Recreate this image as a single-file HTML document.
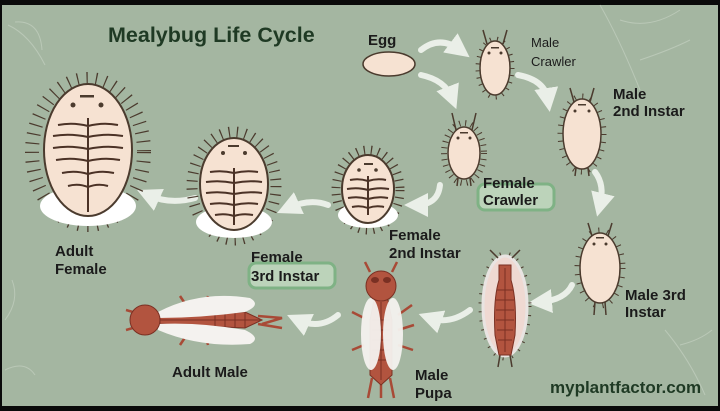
<!DOCTYPE html>
<html><head><style>
html,body{margin:0;padding:0;background:#000;}
svg{display:block;}
text{font-family:"Liberation Sans",sans-serif;}
</style></head><body>
<svg width="720" height="411" viewBox="0 0 720 411" xmlns="http://www.w3.org/2000/svg">
<rect x="0" y="0" width="720" height="411" fill="#0a0a0a"/>
<rect x="2" y="5" width="716" height="401" fill="#a4b6a1"/>
<g fill="none" stroke="#c3d0c0" stroke-width="1" opacity="0.7">
<path d="M8 25 Q30 35 45 65 M15 22 Q40 20 42 50"/>
<path d="M600 5 Q620 40 640 90 M620 20 Q650 30 680 10 M640 60 Q670 50 690 40"/>
<path d="M665 330 Q690 360 705 395 M680 345 Q700 340 712 330"/>
<path d="M5 320 Q20 300 12 280 M5 370 Q25 360 35 375"/>
</g>
<text x="108" y="42" font-size="21.5" font-weight="bold" fill="#1f3a24">Mealybug Life Cycle</text>

<defs>
<marker id="ah" viewBox="0 0 10 10" refX="5" refY="5" markerWidth="4" markerHeight="4" orient="auto"><path d="M0 0L10 5L0 10z" fill="#eef3ec"/></marker>
</defs>
<g fill="none" stroke="#eef3ec" stroke-width="6" stroke-linecap="round" marker-end="url(#ah)" opacity="0.95">
<path d="M421 50 Q440 35 460 50"/>
<path d="M421 75 Q445 80 452 98"/>
<path d="M518 75 Q545 80 548 100"/>
<path d="M595 172 Q605 185 600 205"/>
<path d="M572 285 Q565 300 540 302"/>
<path d="M470 310 Q450 325 430 318"/>
<path d="M338 315 Q320 330 298 320"/>
<path d="M440 185 Q438 205 416 205"/>
<path d="M328 205 Q310 198 288 208"/>
<path d="M195 198 Q170 205 148 195"/>
</g>

<g stroke="#4b3b2e">
<ellipse cx="88" cy="152" rx="56" ry="73" fill="none" stroke-width="14" stroke-dasharray="1.2 8"/>
<ellipse cx="88" cy="206" rx="48" ry="20" fill="#fff" stroke="none"/>
<ellipse cx="88" cy="150" rx="44" ry="66" fill="#f6e2d2" stroke-width="2"/>
<ellipse cx="234" cy="186" rx="42" ry="54" fill="none" stroke-width="11" stroke-dasharray="1.2 7"/>
<ellipse cx="234" cy="222" rx="38" ry="16" fill="#fff" stroke="none"/>
<ellipse cx="234" cy="184" rx="34" ry="46" fill="#f6e2d2" stroke-width="2"/>
<ellipse cx="368" cy="190" rx="32" ry="40" fill="none" stroke-width="9" stroke-dasharray="1.2 6"/>
<ellipse cx="368" cy="215" rx="30" ry="13" fill="#fff" stroke="none"/>
<ellipse cx="368" cy="189" rx="26" ry="34" fill="#f6e2d2" stroke-width="2"/>
<ellipse cx="464" cy="153" rx="20" ry="30" fill="none" stroke-width="6" stroke-dasharray="1 5"/>
<ellipse cx="464" cy="153" rx="16" ry="26" fill="#f6e2d2" stroke-width="1.5"/>
<ellipse cx="389" cy="64" rx="26" ry="12" fill="#f6e2d2" stroke-width="1.5"/>
<ellipse cx="495" cy="68" rx="17" ry="29" fill="none" stroke-width="5" stroke-dasharray="1 6"/>
<ellipse cx="495" cy="68" rx="15" ry="27" fill="#f6e2d2" stroke-width="1.5"/>
<ellipse cx="582" cy="134" rx="22" ry="38" fill="none" stroke-width="5" stroke-dasharray="1 7"/>
<ellipse cx="582" cy="134" rx="19" ry="35" fill="#f6e2d2" stroke-width="1.5"/>
<ellipse cx="600" cy="268" rx="23" ry="38" fill="none" stroke-width="5" stroke-dasharray="1 8"/>
<ellipse cx="600" cy="268" rx="20" ry="35" fill="#f6e2d2" stroke-width="1.5"/>
<ellipse cx="505" cy="306" rx="24" ry="52" fill="none" stroke-width="5" stroke-dasharray="1 8"/>
<ellipse cx="505" cy="306" rx="22" ry="50" fill="#efd9d2" stroke="#e9e4e2" stroke-width="3"/>
</g>
<g stroke="#4b3b2e" stroke-width="1.5" fill="none">
<path d="M487 44 L483 30 M503 44 L507 30"/>
<path d="M456 130 L452 113 M472 130 L476 113 M458 178 L457 186 M470 178 L471 186"/>
<path d="M574 102 L570 88 M590 102 L594 88 M576 168 L575 176 M588 168 L589 176"/>
<path d="M592 236 L588 223 M608 236 L612 223 M595 302 L594 315 M605 302 L606 315"/>
<path d="M498 258 L490 250 M512 258 L520 250 M500 355 L498 367 M510 355 L512 367"/>
</g>
<g fill="#4b3b2e">
<rect x="80" y="95" width="14" height="2.5"/><circle cx="73" cy="105" r="2.5"/><circle cx="101" cy="105" r="2.5"/>
<rect x="228" y="145" width="11" height="2"/><circle cx="223" cy="153" r="2"/><circle cx="245" cy="153" r="2"/>
<rect x="364" y="163" width="9" height="2"/><circle cx="359" cy="170" r="1.8"/><circle cx="376" cy="170" r="1.8"/>
<rect x="460" y="132" width="8" height="1.5"/><circle cx="458" cy="138" r="1.5"/><circle cx="470" cy="138" r="1.5"/>
<rect x="491" y="47" width="8" height="1.5"/><circle cx="489" cy="53" r="1.5"/><circle cx="501" cy="53" r="1.5"/>
<rect x="578" y="104" width="8" height="1.5"/><circle cx="575" cy="111" r="1.5"/><circle cx="589" cy="111" r="1.5"/>
<rect x="596" y="237" width="8" height="1.5"/><circle cx="594" cy="244" r="1.5"/><circle cx="606" cy="244" r="1.5"/>
</g>
<g stroke="#4b3226" stroke-width="2" fill="none">
<path d="M88 118 V212 M58 125 Q73 122 88 126 Q103 122 118 125 M53 136 Q70 133 88 137 Q106 133 123 136 M53 148 Q70 145 88 149 Q106 145 123 148 M56 160 Q72 157 88 161 Q104 157 120 160 M62 173 Q75 170 88 174 Q101 170 114 173 M68 186 Q78 183 88 187 Q98 183 108 186"/>
<path d="M234 168 V225 M210 172 Q222 170 234 173 Q246 170 258 172 M206 182 Q220 180 234 183 Q248 180 262 182 M206 193 Q220 191 234 194 Q248 191 262 193 M210 204 Q222 202 234 205 Q246 202 258 204 M215 215 Q225 213 234 216 Q243 213 253 215"/>
<path d="M368 176 V215 M350 180 Q359 178 368 181 Q377 178 386 180 M347 189 Q358 187 368 190 Q378 187 389 189 M348 198 Q358 196 368 199 Q378 196 388 198 M352 207 Q360 205 368 208 Q376 205 384 207"/>
</g>
<path d="M499 265 h12 v15 q6 20 4 55 l-4 20 h-12 l-4 -20 q-2 -35 4 -55z" fill="#b2543f" stroke="#7a3023" stroke-width="1"/>
<g stroke="#7a3023" stroke-width="1"><path d="M505 268 V352 M497 290 h16 M496 300 h18 M496 310 h18 M496 320 h18 M497 330 h16 M498 340 h14"/></g>

<g>
<path d="M370 272 L365 262 M392 272 L397 262" stroke="#a84a36" stroke-width="2.5"/>
<path d="M372 378 L368 398 M390 378 L394 398 M381 380 L381 398" stroke="#a84a36" stroke-width="2.5"/>
<path d="M398 315 L412 305 M398 330 L414 325 M398 345 L413 350 M364 345 L352 350 M364 318 L352 312" stroke="#a84a36" stroke-width="2.5"/>
<path d="M374 300 h14 l4 20 v55 l-11 10 l-11 -10 v-55z" fill="#b2543f" stroke="#7a3023"/>
<g stroke="#7a3023"><path d="M381 302 V380 M372 320 h18 M372 330 h18 M372 340 h18 M372 350 h18 M372 360 h18"/></g>
<ellipse cx="371" cy="334" rx="10" ry="36" fill="#f4f2ef" opacity="0.95"/>
<ellipse cx="393" cy="334" rx="10" ry="36" fill="#f4f2ef" opacity="0.95"/>
<ellipse cx="381" cy="286" rx="15" ry="15" fill="#b2543f" stroke="#7a3023"/>
<ellipse cx="375" cy="280" rx="4" ry="3" fill="#7a3023"/><ellipse cx="387" cy="280" rx="4" ry="3" fill="#7a3023"/>
</g>

<g>
<path d="M126 310 L140 314 M126 330 L140 326 M180 296 L186 305 M208 296 L206 305 M180 345 L186 336 M208 345 L206 336" stroke="#a84a36" stroke-width="2.5"/>
<path d="M258 316 L282 318 L262 324 M258 324 L282 328" stroke="#a84a36" stroke-width="2.5" fill="none"/>
<path d="M160 316 L245 312 L262 320 L245 328 L160 324z" fill="#b2543f" stroke="#7a3023"/>
<g stroke="#7a3023"><path d="M160 320 H260 M215 313 V327 M225 312 V328 M235 312 V328 M245 312 V328"/></g>
<path d="M158 312 Q200 290 250 298 Q262 305 245 312 Q200 318 158 318z" fill="#f4f2ef"/>
<path d="M158 324 Q200 322 245 330 Q262 338 250 344 Q200 348 158 330z" fill="#f4f2ef"/>
<circle cx="145" cy="320" r="15" fill="#b2543f" stroke="#7a3023"/>
</g>

<g fill="#1b1b1b" font-weight="bold">
<text x="368" y="45" font-size="15">Egg</text>
<text x="531" y="47" font-size="13" font-weight="normal">Male</text>
<text x="531" y="66" font-size="13" font-weight="normal">Crawler</text>
<text x="613" y="99" font-size="15">Male</text>
<text x="613" y="116" font-size="15">2nd Instar</text>
<text x="625" y="300" font-size="15">Male 3rd</text>
<text x="625" y="317" font-size="15">Instar</text>
<text x="55" y="256" font-size="15">Adult</text>
<text x="55" y="274" font-size="15">Female</text>
<text x="389" y="240" font-size="15">Female</text>
<text x="389" y="258" font-size="15">2nd Instar</text>
<text x="415" y="380" font-size="15">Male</text>
<text x="415" y="398" font-size="15">Pupa</text>
<text x="172" y="377" font-size="15">Adult Male</text>
</g>
<rect x="478" y="184" width="76" height="26" rx="7" fill="#bcd3ba" stroke="#7fb285" stroke-width="3"/>
<text x="483" y="188" font-size="15" font-weight="bold" fill="#1b1b1b">Female</text>
<text x="483" y="205" font-size="15" font-weight="bold" fill="#1b1b1b">Crawler</text>
<rect x="249" y="263" width="86" height="25" rx="7" fill="#bcd3ba" stroke="#7fb285" stroke-width="3"/>
<text x="251" y="262" font-size="15" font-weight="bold" fill="#1b1b1b">Female</text>
<text x="251" y="281" font-size="15" font-weight="bold" fill="#1b1b1b">3rd Instar</text>
<text x="550" y="393" font-size="17" font-weight="bold" fill="#1f3a24">myplantfactor.com</text>
</svg>
</body></html>
